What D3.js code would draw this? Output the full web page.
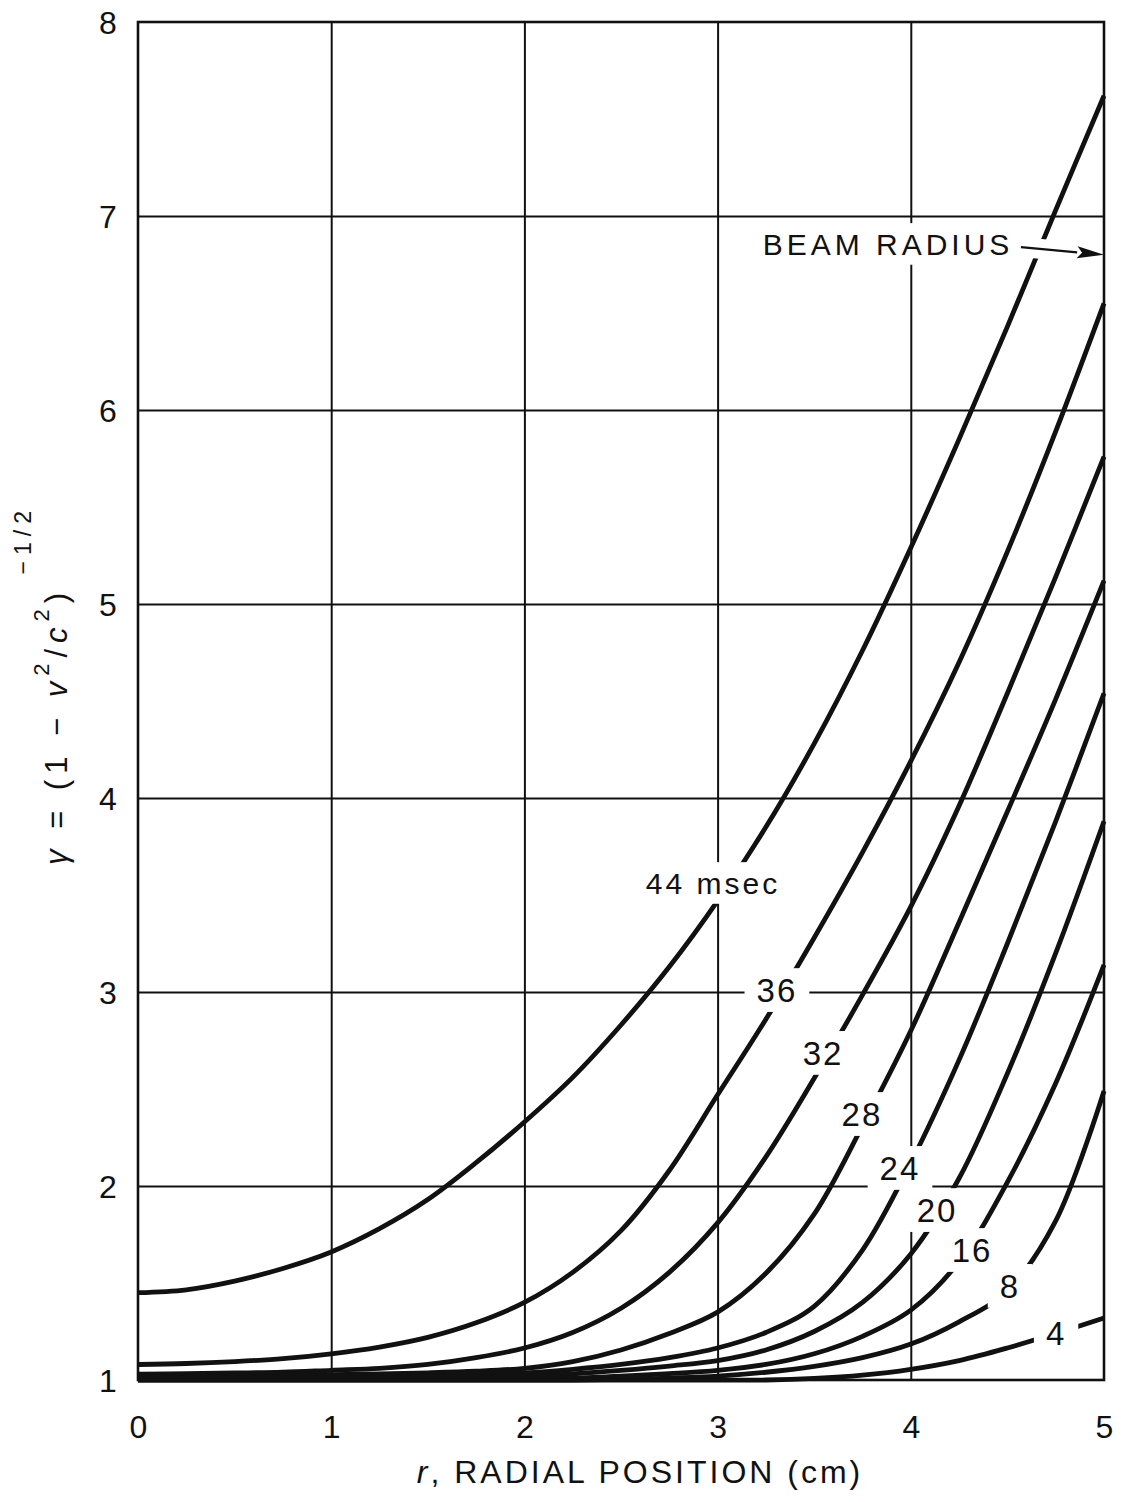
<!DOCTYPE html>
<html>
<head>
<meta charset="utf-8">
<script src="https://cdn.jsdelivr.net/npm/d3@7"></script>
<style>
  html, body { margin: 0; padding: 0; background: #fff; }
  svg { display: block; font-family: "Liberation Sans", Arial, sans-serif; }
</style>
</head>
<body>
<svg id="chart" width="1121" height="1502"></svg>
<script>
// Radial positions (cm) at which every time curve is sampled
const radius = [0, 0.25, 0.5, 0.75, 1, 1.25, 1.5, 1.75, 2, 2.25, 2.5, 2.75, 3, 3.25, 3.5, 3.75, 4, 4.25, 4.5, 4.75, 5];

// gamma = (1 - v^2/c^2)^-1/2 across the beam, one profile per elapsed time
const gamma44 = [1.45, 1.465, 1.51, 1.575, 1.66, 1.78, 1.93, 2.12, 2.33, 2.56, 2.83, 3.13, 3.47, 3.85, 4.28, 4.76, 5.29, 5.85, 6.43, 7.03, 7.62];
const gamma36 = [1.08, 1.085, 1.095, 1.11, 1.135, 1.17, 1.22, 1.295, 1.40, 1.555, 1.77, 2.08, 2.47, 2.86, 3.28, 3.72, 4.19, 4.70, 5.27, 5.89, 6.55];
const gamma32 = [1.03, 1.033, 1.036, 1.04, 1.05, 1.06, 1.08, 1.115, 1.165, 1.245, 1.37, 1.555, 1.81, 2.15, 2.555, 2.985, 3.44, 3.96, 4.54, 5.14, 5.76];
const gamma28 = [1.02, 1.02, 1.022, 1.025, 1.028, 1.032, 1.037, 1.045, 1.06, 1.095, 1.155, 1.24, 1.35, 1.55, 1.855, 2.31, 2.80, 3.36, 3.93, 4.51, 5.12];
const gamma24 = [1.015, 1.015, 1.016, 1.018, 1.02, 1.022, 1.025, 1.03, 1.037, 1.055, 1.08, 1.115, 1.165, 1.245, 1.38, 1.67, 2.12, 2.65, 3.25, 3.88, 4.54];
const gamma20 = [1.01, 1.01, 1.01, 1.01, 1.012, 1.013, 1.015, 1.017, 1.02, 1.032, 1.05, 1.072, 1.10, 1.155, 1.25, 1.40, 1.65, 2.04, 2.58, 3.20, 3.88];
const gamma16 = [1.005, 1.005, 1.005, 1.005, 1.005, 1.005, 1.005, 1.005, 1.006, 1.01, 1.02, 1.033, 1.05, 1.08, 1.135, 1.225, 1.36, 1.61, 2.02, 2.53, 3.14];
const gamma8  = [1.0, 1.0, 1.0, 1.0, 1.0, 1.0, 1.0, 1.0, 1.0, 1.0, 1.003, 1.01, 1.02, 1.04, 1.07, 1.115, 1.185, 1.30, 1.46, 1.82, 2.49];
const gamma4  = [1.0, 1.0, 1.0, 1.0, 1.0, 1.0, 1.0, 1.0, 1.0, 1.0, 1.0, 1.0, 1.0, 1.0, 1.008, 1.025, 1.055, 1.10, 1.165, 1.24, 1.32];

const profiles = [gamma44, gamma36, gamma32, gamma28, gamma24, gamma20, gamma16, gamma8, gamma4];

// In-line curve labels: text and the (r, gamma) point it is centred on
const labelText = ["44 msec", "36", "32", "28", "24", "20", "16", "8", "4"];
const labelR    = [2.976, 3.307, 3.546, 3.747, 3.944, 4.136, 4.317, 4.513, 4.752];
const labelG    = [3.562, 3.01, 2.686, 2.371, 2.093, 1.876, 1.67, 1.485, 1.242];

// Beam-radius annotation
const beamText = "BEAM RADIUS";
const beamAt = [3.882, 6.856];
const beamArrowFrom = [4.57, 6.84];
const beamArrowTo = [5, 6.8];

const xTicks = [0, 1, 2, 3, 4, 5];
const yTicks = [1, 2, 3, 4, 5, 6, 7, 8];
const xTitle = "RADIAL POSITION (cm)";

// ---------------------------------------------------------------
const ink = "#111";
const plot = { left: 138, right: 1104, top: 22, bottom: 1380 };

const x = d3.scaleLinear().domain([0, 5]).range([plot.left, plot.right]);
const y = d3.scaleLinear().domain([1, 8]).range([plot.bottom, plot.top]);

const svg = d3.select("#chart");
svg.append("rect").attr("width", 1121).attr("height", 1502).attr("fill", "#fff");

// Grid
const gridG = svg.append("g");
gridG.append("g")
  .attr("transform", `translate(0,${plot.bottom})`)
  .call(d3.axisBottom(x).tickValues(xTicks.slice(1, -1)).tickSize(-(plot.bottom - plot.top)).tickFormat(""))
  .call(g => g.select(".domain").remove());
gridG.append("g")
  .attr("transform", `translate(${plot.left},0)`)
  .call(d3.axisLeft(y).tickValues(yTicks.slice(1, -1)).tickSize(-(plot.right - plot.left)).tickFormat(""))
  .call(g => g.select(".domain").remove());
gridG.selectAll(".tick line").attr("stroke", ink).attr("stroke-width", 2);

// Curves
const line = d3.line()
  .x(d => x(d[0]))
  .y(d => y(d[1]))
  .curve(d3.curveCatmullRom.alpha(0.5));

svg.append("g").selectAll("path")
  .data(profiles)
  .join("path")
  .attr("d", vals => line(radius.map((r, i) => [r, vals[i]])))
  .attr("fill", "none")
  .attr("stroke", ink)
  .attr("stroke-width", 4.8)
  .attr("stroke-linejoin", "round");

// Knock-outs behind labels, then the labels
const knockG = svg.append("g");
const frameG = svg.append("g");
const textG = svg.append("g").attr("fill", ink);

function knockOut(node, cx, cy, fs, padX, padY) {
  const w = node.getBBox().width;
  const capH = 0.72 * fs;
  knockG.append("rect")
    .attr("x", cx - w / 2 - padX)
    .attr("y", cy - capH / 2 - padY)
    .attr("width", w + 2 * padX)
    .attr("height", capH + 2 * padY)
    .attr("fill", "#fff");
}

labelText.forEach((t, i) => {
  const fs = i === 0 ? 30 : 33;
  const cx = x(labelR[i]), cy = y(labelG[i]);
  const el = textG.append("text")
    .attr("x", cx).attr("y", cy).attr("dy", "0.36em")
    .attr("text-anchor", "middle")
    .style("font-size", fs + "px")
    .style("letter-spacing", i === 0 ? "3px" : "2px")
    .text(t);
  knockOut(el.node(), cx, cy, fs, 12, 10);
});

// Beam radius text and arrow
{
  const fs = 30;
  const cx = x(beamAt[0]), cy = y(beamAt[1]);
  const el = textG.append("text")
    .attr("x", cx).attr("y", cy).attr("dy", "0.36em")
    .attr("text-anchor", "middle")
    .style("font-size", fs + "px")
    .style("letter-spacing", "4px")
    .text(beamText);
  knockOut(el.node(), cx, cy, fs, 12, 10);

  const x0 = x(beamArrowFrom[0]), y0 = y(beamArrowFrom[1]);
  const x1 = x(beamArrowTo[0]), y1 = y(beamArrowTo[1]);
  const len = Math.hypot(x1 - x0, y1 - y0);
  const ux = (x1 - x0) / len, uy = (y1 - y0) / len;
  // white halo breaking the curve the arrow crosses
  knockG.append("line")
    .attr("x1", x0 + ux * 6).attr("y1", y0 + uy * 6)
    .attr("x2", x0 + ux * (len - 30)).attr("y2", y0 + uy * (len - 30))
    .attr("stroke", "#fff").attr("stroke-width", 20);
  const headL = 27, headW = 6;
  const bx = x1 - ux * headL, by = y1 - uy * headL;
  textG.append("line")
    .attr("x1", x0).attr("y1", y0).attr("x2", bx).attr("y2", by)
    .attr("stroke", ink).attr("stroke-width", 2.2);
  textG.append("path")
    .attr("d", `M${x1},${y1} L${bx - uy * headW},${by + ux * headW} L${bx + ux * 5},${by + uy * 5} L${bx + uy * headW},${by - ux * headW} Z`)
    .attr("fill", ink);
}

// Frame
frameG.append("rect")
  .attr("x", plot.left).attr("y", plot.top)
  .attr("width", plot.right - plot.left).attr("height", plot.bottom - plot.top)
  .attr("fill", "none").attr("stroke", ink).attr("stroke-width", 2.6);

// Tick labels
const xAxisG = svg.append("g")
  .attr("transform", `translate(0,${plot.bottom})`)
  .call(d3.axisBottom(x).tickValues(xTicks).tickSize(0).tickFormat(d3.format("d")));
xAxisG.select(".domain").remove();
xAxisG.selectAll("text")
  .attr("y", 46).attr("dy", "0.36em")
  .attr("fill", ink)
  .style("font-size", "32px")
  .style("font-family", "'Liberation Sans', Arial, sans-serif");

const yAxisG = svg.append("g")
  .attr("transform", `translate(${plot.left},0)`)
  .call(d3.axisLeft(y).tickValues(yTicks).tickSize(0).tickFormat(d3.format("d")));
yAxisG.select(".domain").remove();
yAxisG.selectAll("text")
  .attr("x", -30).attr("dy", "0.36em")
  .attr("text-anchor", "middle")
  .attr("fill", ink)
  .style("font-size", "32px")
  .style("font-family", "'Liberation Sans', Arial, sans-serif");

// Axis titles
const xt = svg.append("text")
  .attr("x", 640).attr("y", 1483)
  .attr("text-anchor", "middle")
  .attr("fill", ink)
  .style("font-size", "32px")
  .style("letter-spacing", "3px");
xt.append("tspan").style("font-style", "italic").text("r");
xt.append("tspan").text(", " + xTitle);

const yt = svg.append("text")
  .attr("transform", "translate(67,685) rotate(-90)")
  .attr("text-anchor", "middle")
  .attr("fill", ink)
  .style("font-size", "31px")
  .style("letter-spacing", "6px");
yt.append("tspan").style("font-style", "italic").text("γ");
yt.append("tspan").text(" = (1 − ");
yt.append("tspan").style("font-style", "italic").text("v");
yt.append("tspan").attr("dy", -18).style("font-size", "22px").text("2");
yt.append("tspan").attr("dy", 18).text("/");
yt.append("tspan").style("font-style", "italic").text("c");
yt.append("tspan").attr("dy", -18).style("font-size", "22px").text("2");
yt.append("tspan").attr("dy", 18).text(")");
yt.append("tspan").attr("dy", -36).style("font-size", "23px").text(" −1/2");
</script>
</body>
</html>
